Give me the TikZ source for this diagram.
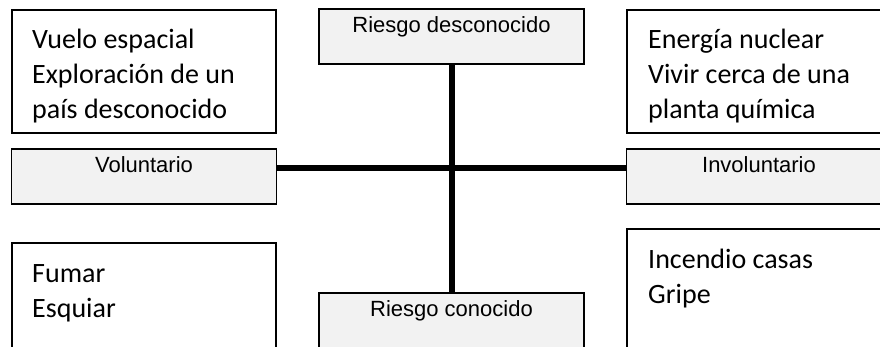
\documentclass[tikz,border=0pt]{standalone}
\usepackage{fontspec}
\newfontfamily\itemfont{Carlito}
\newfontfamily\labelfont{Liberation Sans}
\definecolor{labelgray}{HTML}{F2F2F2}

\begin{document}
\begin{tikzpicture}[x=1pt,y=-1pt]

        \clip (0,0) rectangle (880,346);

        \begin{scope}[every node/.style={draw,line width=1.2pt,minimum width=264pt,minimum height=123pt}]
          \node (vu)  at (144,71.5)  {};
          \node (en)  at (759,71.5)  {};
          \node (fu)  at (144,304.5) {};
          \node (ic)  at (759,290.5) {};
        \end{scope}

        \begin{scope}[every node/.style={anchor=north west,inner sep=0pt,align=left,font=\itemfont\fontsize{28}{35}\selectfont}]
          \node (vut)  at (32,23.5)   {\strut Vuelo espacial\\\strut Exploración de un\\\strut país desconocido};
          \node (ent)  at (648,23.5)  {\strut Energía nuclear\\\strut Vivir cerca de una\\\strut planta química};
          \node (fut)  at (32,257.5)  {\strut Fumar\\\strut Esquiar};
          \node (ict)  at (648,243.5) {\strut Incendio casas\\\strut Gripe};
        \end{scope}

        \begin{scope}[every node/.style={draw,line width=1.2pt,fill=labelgray,minimum width=265pt,
            text height=23pt,text depth=32pt,inner ysep=0pt,font=\labelfont\fontsize{22}{26}\selectfont}]
          \node (rd)  at (451.5,36.5)  {Riesgo desconocido};
          \node (rc)  at (451.5,320.5) {Riesgo conocido};
          \node (vo)  at (144,176.5)   {Voluntario};
          \node (iv)  at (759,176.5)   {Involuntario};
        \end{scope}

        \begin{scope}[every edge/.style={draw,line width=6pt}]
          \path (rd) edge (rc);
          \path ([yshift=8.5pt]vo.east) edge ([yshift=8.5pt]iv.west);
        \end{scope}

      \end{tikzpicture}
\end{document}
